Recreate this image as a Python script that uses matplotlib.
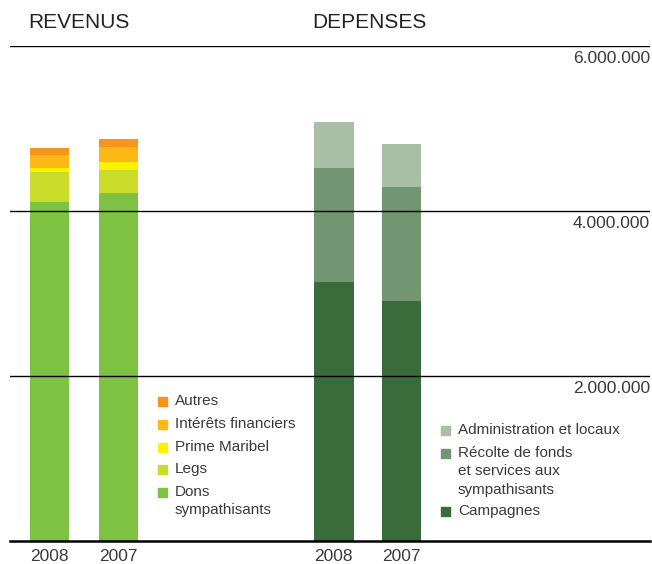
import numpy as np
import matplotlib
matplotlib.use('Agg')
from matplotlib import pyplot as plt
from matplotlib.patches import Rectangle

plt.rcParams['font.family'] = ['Liberation Sans', 'DejaVu Sans']

annees = ['2008', '2007', '2008', '2007']

# revenus (en euros)
rev_noms = ['Dons\nsympathisants', 'Legs', 'Prime Maribel', 'Intérêts financiers', 'Autres']
rev_couleurs = ['#7DC242', '#CBDB2A', '#FFF200', '#FDB913', '#F7941D']
rev_2008 = [4110000, 364000, 48000, 158000, 85000]
rev_2007 = [4218000, 279000, 97000, 182000, 97000]

# depenses (en euros)
dep_noms = ['Campagnes', 'Récolte de fonds\net services aux\nsympathisants', 'Administration et locaux']
dep_couleurs = ['#3A6B3A', '#739672', '#A8BFA5']
dep_2008 = [3139000, 1382000, 558000]
dep_2007 = [2909000, 1382000, 521000]

yticks = [2000000, 4000000, 6000000]
ytick_labels = ['2.000.000', '4.000.000', '6.000.000']

W, H = 652, 564
fig = plt.figure(figsize=(W / 100, H / 100), dpi=100)
ax = fig.add_axes([10 / W, (H - 541) / H, 640 / W, (541 - 46) / H])

pos_rev = [0, 1]
pos_dep = [4.12, 5.1]
largeur = 0.57

bas = np.zeros(2)
for i in range(len(rev_noms)):
    vals = np.array([rev_2008[i], rev_2007[i]])
    ax.bar(pos_rev, vals, largeur, bottom=bas, color=rev_couleurs[i], zorder=1)
    bas += vals

bas = np.zeros(2)
for i in range(len(dep_noms)):
    vals = np.array([dep_2008[i], dep_2007[i]])
    ax.bar(pos_dep, vals, largeur, bottom=bas, color=dep_couleurs[i], zorder=1)
    bas += vals

ax.set_xlim(-0.572, 8.70)
ax.set_ylim(0, 6000000)
for s in ax.spines.values():
    s.set_visible(False)
ax.set_xticks([])
ax.set_yticks([])

for yt, lab in zip(yticks, ytick_labels):
    ax.axhline(yt, color='black', lw=1.0, zorder=3)
    ax.text(1.0, yt - 65000, lab, transform=ax.get_yaxis_transform(),
            ha='right', va='top', fontsize=12.5, color='#3a3a3a')
ax.axhline(0, color='black', lw=1.8, zorder=3, clip_on=False)

for p, a in zip(pos_rev + pos_dep, annees):
    ax.text(p, -95000, a, ha='center', va='top', fontsize=12.5, color='#3a3a3a')

fig.text(28 / W, 1 - 22 / H, 'REVENUS', ha='left', va='center', fontsize=15, color='#222222')
fig.text(312 / W, 1 - 22 / H, 'DEPENSES', ha='left', va='center', fontsize=15, color='#222222')

# legendes
def legende(x, ys, noms, couleurs):
    for y, nom, c in zip(ys, noms, couleurs):
        fig.patches.append(Rectangle((x / W, 1 - (y + 4.5) / H), 9 / W, 9 / H,
                                     transform=fig.transFigure, color=c))
        fig.text((x + 17) / W, 1 - (y - 7) / H, nom, ha='left', va='top',
                 fontsize=11, color='#3a3a3a', linespacing=1.4)

legende(158, [401, 424, 447, 469, 492], rev_noms[::-1], rev_couleurs[::-1])
legende(441, [430, 453, 511], dep_noms[::-1], dep_couleurs[::-1])

fig.savefig('out.png', dpi=100)
